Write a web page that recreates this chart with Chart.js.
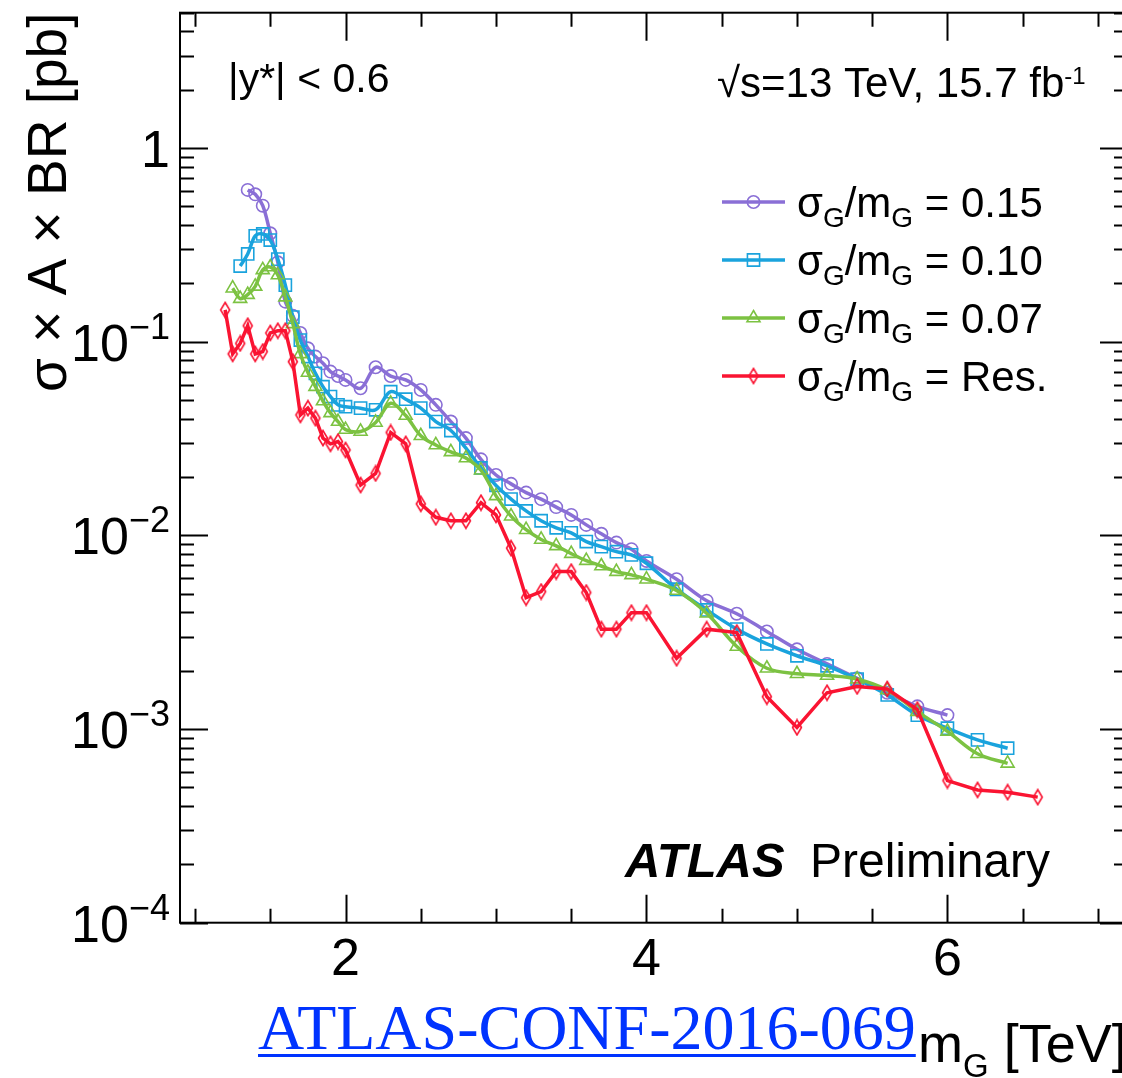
<!DOCTYPE html>
<html>
<head>
<meta charset="utf-8">
<title>Dijet Gaussian limits</title>
<script src="https://cdn.jsdelivr.net/npm/chart.js@4.4.0/dist/chart.umd.min.js"></script>
<style>
  html, body { margin: 0; padding: 0; background: #fff; overflow: hidden; }
  #wrap { position: relative; width: 1122px; height: 1078px; overflow: hidden; }
  #plot { position: absolute; left: 0; top: 0; }
  #conf {
    position: absolute; left: 258px; top: 996px;
    font: 64px 'Liberation Serif', 'Times New Roman', serif; line-height: 64px;
    color: #0033ff; text-decoration: underline;
    text-decoration-thickness: 3px; text-underline-offset: 5px;
    white-space: nowrap;
  }
</style>
</head>
<body>
<div id="wrap">
  <canvas id="plot" width="1140" height="1078"></canvas>
  <a id="conf" href="https://atlas.web.cern.ch/Atlas/GROUPS/PHYSICS/CONFNOTES/ATLAS-CONF-2016-069/">ATLAS-CONF-2016-069</a>
</div>
<script>
// Gaussian signal width sigma_G/m_G = 0.15
const mass15 = [1.35, 1.40, 1.45, 1.50, 1.55, 1.60, 1.65, 1.70, 1.75, 1.80, 1.85, 1.90, 1.95, 2.00,
  2.1, 2.2, 2.3, 2.4, 2.5, 2.6, 2.7, 2.8, 2.9, 3.0, 3.1, 3.2, 3.3, 3.4, 3.5, 3.6, 3.7, 3.8, 3.9, 4.0,
  4.2, 4.4, 4.6, 4.8, 5.0, 5.2, 5.4, 5.6, 5.8, 6.0];
const xsec15 = [0.608, 0.577, 0.504, 0.363, 0.257, 0.161, 0.136, 0.111, 0.0925, 0.0838, 0.0774, 0.0701, 0.0665, 0.0635,
  0.0575, 0.0738, 0.0665, 0.0635, 0.0564, 0.0472, 0.0387, 0.0318, 0.0247, 0.0205, 0.01845, 0.01663, 0.01538, 0.0140, 0.01276, 0.01133, 0.01019, 0.00918, 0.00849, 0.00738,
  0.00594, 0.0046, 0.00394, 0.00319, 0.00258, 0.00217, 0.00183, 0.00154, 0.00131, 0.00118];

// sigma_G/m_G = 0.10
const mass10 = [1.30, 1.35, 1.40, 1.45, 1.50, 1.55, 1.60, 1.65, 1.70, 1.75, 1.80, 1.85, 1.90, 1.95, 2.00,
  2.1, 2.2, 2.3, 2.4, 2.5, 2.6, 2.7, 2.8, 2.9, 3.0, 3.1, 3.2, 3.3, 3.4, 3.5, 3.6, 3.7, 3.8, 3.9, 4.0,
  4.2, 4.4, 4.6, 4.8, 5.0, 5.2, 5.4, 5.6, 5.8, 6.0, 6.2, 6.4];
const xsec10 = [0.246, 0.284, 0.352, 0.360, 0.335, 0.267, 0.196, 0.134, 0.102, 0.0838, 0.0687, 0.0586, 0.0521, 0.0472, 0.0462,
  0.0454, 0.0445, 0.0552, 0.0505, 0.0454, 0.0387, 0.0348, 0.0282, 0.0223, 0.0181, 0.0154, 0.01337, 0.0119, 0.01094, 0.0103, 0.00929, 0.00875, 0.00824, 0.00793, 0.00718,
  0.00527, 0.00412, 0.00328, 0.00275, 0.00239, 0.00212, 0.00181, 0.00150, 0.00118, 0.00101, 0.000879, 0.000796];

// sigma_G/m_G = 0.07
const mass07 = [1.25, 1.30, 1.35, 1.40, 1.45, 1.50, 1.55, 1.60, 1.65, 1.70, 1.75, 1.80, 1.85, 1.90, 1.95, 2.00,
  2.1, 2.2, 2.3, 2.4, 2.5, 2.6, 2.7, 2.8, 2.9, 3.0, 3.1, 3.2, 3.3, 3.4, 3.5, 3.6, 3.7, 3.8, 3.9, 4.0,
  4.2, 4.4, 4.6, 4.8, 5.0, 5.2, 5.4, 5.6, 5.8, 6.0, 6.2, 6.4];
const xsec07 = [0.189, 0.167, 0.175, 0.193, 0.235, 0.243, 0.221, 0.170, 0.1236, 0.0865, 0.0694, 0.0586, 0.0494, 0.0429, 0.0387, 0.0352,
  0.0344, 0.0383, 0.0481, 0.0416, 0.0327, 0.0293, 0.0270, 0.0251, 0.0217, 0.0160, 0.01256, 0.0107, 0.00953, 0.00883, 0.00805, 0.00741, 0.00695, 0.0065, 0.00625, 0.00594,
  0.00519, 0.00396, 0.00267, 0.00206, 0.00193, 0.00189, 0.00181, 0.00159, 0.00123, 0.000973, 0.000745, 0.000665];

// detector resolution width
const massRes = [1.20, 1.25, 1.30, 1.35, 1.40, 1.45, 1.50, 1.55, 1.60, 1.65, 1.70, 1.75, 1.80, 1.85, 1.90, 1.95, 2.00,
  2.1, 2.2, 2.3, 2.4, 2.5, 2.6, 2.7, 2.8, 2.9, 3.0, 3.1, 3.2, 3.3, 3.4, 3.5, 3.6, 3.7, 3.8, 3.9, 4.0,
  4.2, 4.4, 4.6, 4.8, 5.0, 5.2, 5.4, 5.6, 5.8, 6.0, 6.2, 6.4, 6.6];
const xsecRes = [0.146, 0.0865, 0.098, 0.121, 0.0865, 0.089, 0.111, 0.114, 0.114, 0.0789, 0.0419, 0.0454, 0.0403, 0.0318, 0.0297, 0.0305, 0.0276,
  0.0182, 0.0209, 0.0340, 0.0297, 0.01455, 0.0124, 0.0119, 0.0119, 0.01476, 0.01276, 0.00859, 0.00477, 0.00513, 0.0065, 0.0065, 0.00507, 0.00328, 0.00328, 0.00399, 0.00399,
  0.00232, 0.00328, 0.00315, 0.00147, 0.00102, 0.00154, 0.00166, 0.00161, 0.00126, 0.000542, 0.000485, 0.000472, 0.000445];

const legendLabels = ['0.15', '0.10', '0.07', 'Res.'];
const xTickLabels = [2, 4, 6];
const yTickLabels = [1e-4, 1e-3, 1e-2, 1e-1, 1];

const FONT = "'Liberation Sans', Arial, Helvetica, sans-serif";
const purple = '#8a6fd6', blue = '#1aa3dd', green = '#7cc242', red = '#fa1432';

// narrow open diamond marker for the resolution curve
function diamond(color) {
  const c = document.createElement('canvas');
  c.width = 14; c.height = 18;
  const g = c.getContext('2d');
  g.strokeStyle = color;
  g.lineWidth = 1.6;
  g.beginPath();
  g.moveTo(7, 1.5); g.lineTo(11.5, 9); g.lineTo(7, 16.5); g.lineTo(2.5, 9);
  g.closePath();
  g.stroke();
  return c;
}

function points(xs, ys) {
  return xs.map((m, i) => ({ x: m, y: ys[i] }));
}

function series(xs, ys, color, style, radius, tension, order) {
  return {
    data: points(xs, ys),
    borderColor: color,
    borderWidth: 3.5,
    pointStyle: style,
    pointRadius: radius,
    pointBorderWidth: 1.6,
    pointBorderColor: color,
    pointBackgroundColor: 'rgba(0,0,0,0)',
    tension: tension,
    fill: false,
    order: order
  };
}

// text runs with sub/superscripts: [text, size, dy, style]
function rich(ctx, x, y, parts) {
  let cx = x;
  parts.forEach(([t, size, dy, style]) => {
    ctx.font = (style || '') + ' ' + size + 'px ' + FONT;
    ctx.fillText(t, cx, y + (dy || 0));
    cx += ctx.measureText(t).width;
  });
  return cx;
}

function richWidth(ctx, parts) {
  let w = 0;
  parts.forEach(([t, size, dy, style]) => {
    ctx.font = (style || '') + ' ' + size + 'px ' + FONT;
    w += ctx.measureText(t).width;
  });
  return w;
}

// ROOT style frame: inward ticks on all four sides, labels, legend and captions
const rootFrame = {
  id: 'rootFrame',
  afterDraw(chart) {
    const ctx = chart.ctx;
    const a = chart.chartArea;
    const xs = chart.scales.x, ys = chart.scales.y;
    ctx.save();
    ctx.strokeStyle = '#000';
    ctx.fillStyle = '#000';
    ctx.lineWidth = 2;
    ctx.strokeRect(a.left, a.top, a.right - a.left, a.bottom - a.top);

    ctx.beginPath();
    for (let v = 1.0; v <= 7.001; v += 0.5) {
      const px = Math.round(xs.getPixelForValue(v)) + 0.5;
      const len = Math.abs(v % 2) < 1e-6 ? 28 : 14;
      ctx.moveTo(px, a.bottom); ctx.lineTo(px, a.bottom - len);
      ctx.moveTo(px, a.top); ctx.lineTo(px, a.top + len);
    }
    for (let e = -4; e <= 0; e++) {
      for (let k = 1; k <= 9; k++) {
        const v = k * Math.pow(10, e);
        if (v > ys.max * 1.0001) break;
        const py = Math.round(ys.getPixelForValue(v)) + 0.5;
        const len = k === 1 ? 28 : 14;
        ctx.moveTo(a.left, py); ctx.lineTo(a.left + len, py);
        ctx.moveTo(a.right, py); ctx.lineTo(a.right - len, py);
      }
    }
    ctx.stroke();

    // axis numbers
    ctx.textBaseline = 'alphabetic';
    ctx.textAlign = 'center';
    ctx.font = '52px ' + FONT;
    xTickLabels.forEach(v => ctx.fillText(String(v), xs.getPixelForValue(v), 975));

    ctx.textAlign = 'left';
    yTickLabels.forEach(v => {
      const py = ys.getPixelForValue(v);
      const e = Math.round(Math.log10(v));
      const parts = e === 0 ? [['1', 52, 0]] : [['10', 52, 0], ['\u2212' + Math.abs(e), 36, -22]];
      const w = richWidth(ctx, parts);
      rich(ctx, 170 - w, py + 19, parts);
    });

    // axis titles
    ctx.save();
    ctx.translate(66, 392);
    ctx.rotate(-Math.PI / 2);
    ctx.font = '55px ' + FONT;
    ctx.fillText('\u03c3 \u00d7 A \u00d7 BR [pb]', 0, 0);
    ctx.restore();
    rich(ctx, 918, 1062, [['m', 54, 0], ['G', 33, 15], [' [TeV]', 54, 0]]);

    // captions
    rich(ctx, 228, 92, [['|y*| < 0.6', 41, 0]]);
    rich(ctx, 717, 97, [['\u221as=13 TeV, 15.7 fb', 42, 0], ['-1', 24, -13]]);
    rich(ctx, 625, 877, [['ATLAS', 49, 0, 'italic bold']]);
    rich(ctx, 810, 877, [['Preliminary', 48, 0]]);

    // legend
    const rowY = [202, 260, 318, 376];
    chart.data.datasets.forEach((ds, i) => {
      const y = rowY[i];
      ctx.strokeStyle = ds.borderColor;
      ctx.lineWidth = 3.5;
      ctx.beginPath();
      ctx.moveTo(722, y); ctx.lineTo(785, y);
      ctx.stroke();
      ctx.lineWidth = 1.6;
      ctx.fillStyle = 'rgba(0,0,0,0)';
      Chart.helpers.drawPoint(ctx, {
        pointStyle: ds.pointStyle, radius: ds.pointRadius, borderWidth: 1.6, rotation: 0
      }, 753.5, y);
      ctx.fillStyle = '#000';
      rich(ctx, 797, y + 15, [['\u03c3', 42, 0], ['G', 28, 10], ['/m', 42, 0], ['G', 28, 10], [' = ' + legendLabels[i], 42, 0]]);
    });
    ctx.restore();
  }
};

new Chart(document.getElementById('plot'), {
  type: 'line',
  data: {
    datasets: [
      series(mass15, xsec15, purple, 'circle', 6.2, 0.35, 3),
      series(mass10, xsec10, blue, 'rect', 8.6, 0.35, 2),
      series(mass07, xsec07, green, 'triangle', 7.5, 0.35, 1),
      series(massRes, xsecRes, red, diamond(red), 7, 0, 0)
    ]
  },
  options: {
    responsive: false,
    animation: false,
    layout: { padding: { left: 180, top: 12.7, right: 12, bottom: 155.3 } },
    scales: {
      x: { type: 'linear', min: 0.9, max: 7.2, display: false },
      y: { type: 'logarithmic', min: 1e-4, max: 5, display: false }
    },
    plugins: { legend: { display: false }, tooltip: { enabled: false } }
  },
  plugins: [rootFrame]
});
</script>
</body>
</html>
